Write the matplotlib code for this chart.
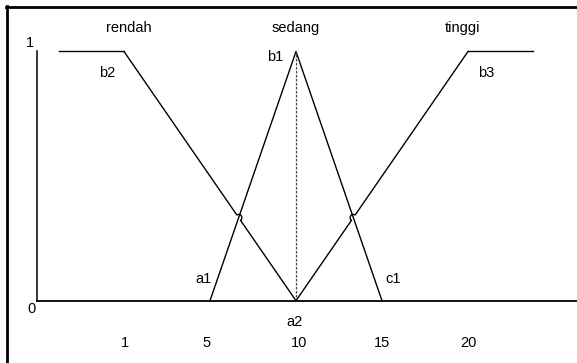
import numpy as np
import matplotlib
matplotlib.use("Agg")
import matplotlib.pyplot as plt
from matplotlib.lines import Line2D

# membership functions (x value, degree)
rendah_x = [-3.8, 0, 10]
rendah_y = [1, 1, 0]
sedang_x = [5, 10, 15]
sedang_y = [0, 1, 0]
tinggi_x = [10, 20, 23.8]
tinggi_y = [0, 1, 1]

set_names = ['rendah', 'sedang', 'tinggi']
tick_labels = ['1', '5', '10', '15', '20']

plt.rcParams['font.family'] = ['Liberation Sans', 'DejaVu Sans']

W, H = 577, 363
fig = plt.figure(figsize=(W / 100, H / 100), dpi=100)
ax = fig.add_axes([0, 0, 1, 1])
ax.axis('off')

# pixel scale of the drawing
sx, sy = 17.2, 249.2
x0, y0 = 296, 300.7
ax.set_xlim(10 - x0 / sx, 10 + (W - x0) / sx)
ax.set_ylim(-(H - y0) / sy, y0 / sy)

lc = 'black'
lw = 1.0


def hop_line(xs, ys, cx, cy, r=3.2, n=20):
    # straight segment with a small semicircle jump around (cx, cy)
    p0 = np.array([xs[0] * sx, ys[0] * sy])
    p1 = np.array([xs[1] * sx, ys[1] * sy])
    c = np.array([cx * sx, cy * sy])
    u = (p1 - p0) / np.linalg.norm(p1 - p0)
    nrm = np.array([-u[1], u[0]])
    t = np.linspace(0, np.pi, n)
    arc = c[None, :] - r * np.cos(t)[:, None] * u[None, :] + r * np.sin(t)[:, None] * nrm[None, :]
    pts = np.vstack([p0, arc, p1])
    return pts[:, 0] / sx, pts[:, 1] / sy


def crossing(ax_, ay_, bx_, by_):
    # intersection of segment a and segment b
    (x1, x2), (y1, y2) = ax_, ay_
    (x3, x4), (y3, y4) = bx_, by_
    d = (x1 - x2) * (y3 - y4) - (y1 - y2) * (x3 - x4)
    px = ((x1 * y2 - y1 * x2) * (x3 - x4) - (x1 - x2) * (x3 * y4 - y3 * x4)) / d
    py = ((x1 * y2 - y1 * x2) * (y3 - y4) - (y1 - y2) * (x3 * y4 - y3 * x4)) / d
    return px, py


# axes
ax.plot([-5.06, -5.06], [0, 1], color=lc, lw=1.1)
ax.plot([-5.06, 10 + (W - x0) / sx], [0, 0], color=lc, lw=1.3)

# rendah
ax.plot(rendah_x[:2], rendah_y[:2], color=lc, lw=lw)
cx, cy = crossing(rendah_x[1:], rendah_y[1:], sedang_x[:2], sedang_y[:2])
hx, hy = hop_line(rendah_x[1:], rendah_y[1:], cx, cy)
ax.plot(hx, hy, color=lc, lw=lw)

# sedang
ax.plot(sedang_x, sedang_y, color=lc, lw=lw)
ax.plot([sedang_x[1], sedang_x[1]], [0, sedang_y[1]], color='#444444', lw=0.9,
        linestyle=(0, (2, 1.2)))

# tinggi
cx, cy = crossing(tinggi_x[:2], tinggi_y[:2], sedang_x[1:], sedang_y[1:])
hx, hy = hop_line(tinggi_x[:2], tinggi_y[:2], cx, cy)
ax.plot(hx, hy, color=lc, lw=lw)
ax.plot(tinggi_x[1:], tinggi_y[1:], color=lc, lw=lw)

fs = 10.5
for name, xpos in zip(set_names, [0.29, 10, 19.7]):
    ax.text(xpos, 1.095, name, ha='center', va='center', fontsize=fs)

pt_labels = [('b2', -0.99, 0.913), ('b1', 8.78, 0.978), ('b3', 21.05, 0.913),
             ('a1', 4.65, 0.087), ('c1', 15.64, 0.087), ('a2', 9.94, -0.085),
             ('0', -5.4, -0.035), ('1', -5.47, 1.034)]
for s, tx, ty in pt_labels:
    ax.text(tx, ty, s, ha='center', va='center', fontsize=fs)

tick_pos = [0.05, 4.8, 10.2, 15.0, 20.0]
for s, tx in zip(tick_labels, tick_pos):
    ax.text(tx, -0.17, s, ha='center', va='center', fontsize=fs)

# frame on left and top
fig.add_artist(Line2D([7 / W, 7 / W], [0, 1 - 6 / H], color='black', lw=2.0))
fig.add_artist(Line2D([6 / W, 1], [1 - 7 / H, 1 - 7 / H], color='black', lw=2.0))

fig.savefig('out.png', dpi=100)
